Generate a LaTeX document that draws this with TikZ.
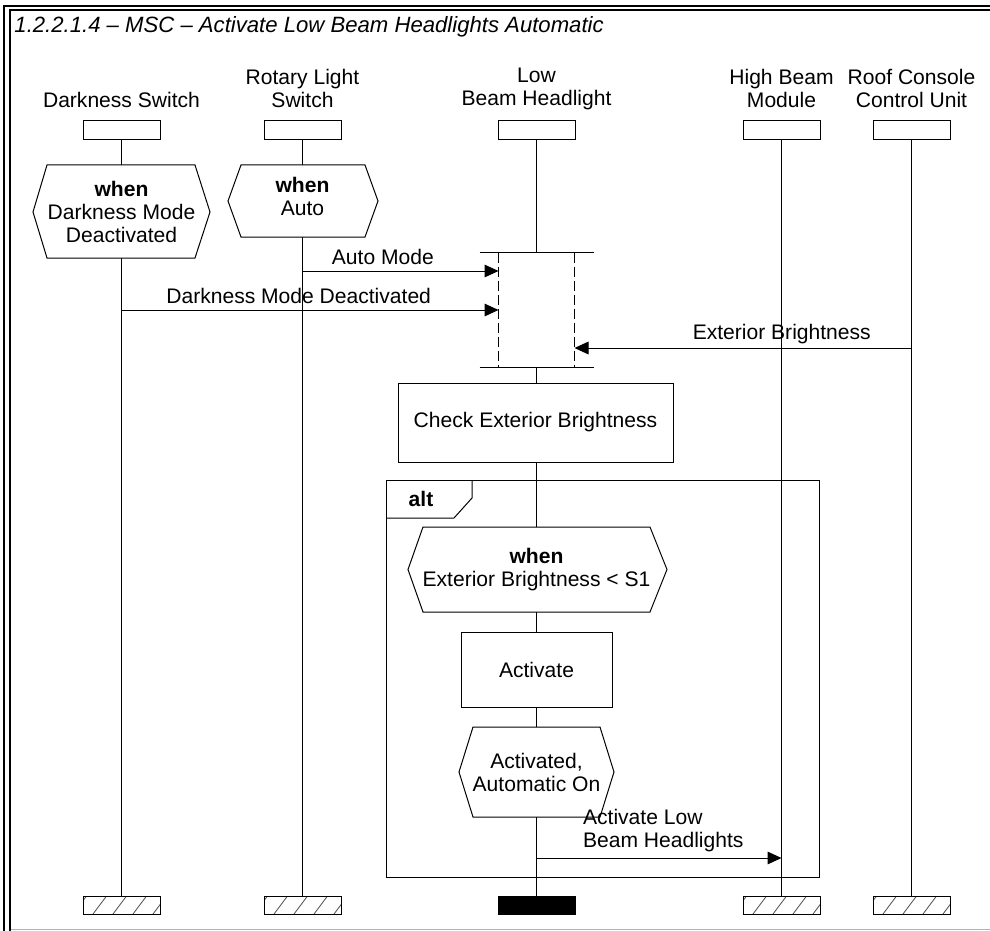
\documentclass[tikz,border=0pt]{standalone}
\usepackage{fontspec}
\setmainfont{Liberation Sans}
\usetikzlibrary{arrows.meta}

\begin{document}
\begin{tikzpicture}[x=0.75pt,y=-0.75pt,line width=0.75pt,
  font=\fontsize{15.8}{17.25}\selectfont,
  msg/.style={-{Triangle[length=10.5pt,width=9.5pt]}},
  headbox/.style={draw,fill=white,minimum width=57.75pt,minimum height=14.25pt,inner sep=0pt},
  endbox/.style={headbox,minimum height=13.5pt,path picture={
    \foreach \i in {-10,10,30,50,70}
      \draw[line width=0.6pt,black!70](path picture bounding box.south west)++(\i,0)--++(13.5,-18);}},
  cond/.style={draw,fill=white},
  lbl/.style={align=center}]
\useasboundingbox (0,0) rectangle (990,931);
\fill[white] (0,0) rectangle (990,931);
\draw[line width=1.5pt] (990,5.8)--(4.3,5.8)--(4.3,931);
\draw[line width=1.5pt] (990,10.3)--(9.8,10.3)--(9.8,931);
\draw[gray!60,line width=1.2pt] (11,929.5)--(990,929.5);
\node[anchor=west,font=\fontsize{16.6}{18}\selectfont\itshape] (title) at (9.5,27) {1.2.2.1.4 – MSC – Activate Low Beam Headlights Automatic};

\node[lbl] (dsl) at (121.5,100) {Darkness Switch};
\node[lbl] (rsl) at (302.5,88.5) {Rotary Light\\Switch};
\node[lbl] (lbl) at (536.5,88.5) {Low\\Beam Headlight};
\node[lbl] (hbl) at (781.5,88.5) {High Beam\\Module};
\node[lbl] (rcl) at (911.5,88.5) {Roof Console\\Control Unit};

\node[headbox] (ds) at (121.5,130.5) {};
\node[headbox] (rs) at (302.5,130.5) {};
\node[headbox] (lb) at (536.5,130.5) {};
\node[headbox] (hb) at (781.5,130.5) {};
\node[headbox] (rc) at (911.5,130.5) {};
\node[endbox] (dse) at (121.5,905) {};
\node[endbox] (rse) at (302.5,905) {};
\node[headbox,minimum height=13.5pt,fill=black] (lbe) at (536.5,905) {};
\node[endbox] (hbe) at (781.5,905) {};
\node[endbox] (rce) at (911.5,905) {};
\draw (ds)--(dse);
\draw (rs)--(rse);
\draw (lb)--(lbe);
\draw (hb)--(hbe);
\draw (rc)--(rce);

\draw[cond] (47,165)--(195,165)--(210,212)--(195,258)--(47,258)--(33,212)--cycle;
\node[lbl] (dsw) at (121.5,212) {\textbf{when}\\Darkness Mode\\Deactivated};
\draw[cond] (241,165)--(365,165)--(378,201)--(365,237)--(241,237)--(228,201)--cycle;
\node[lbl] (rsw) at (302.5,196) {\textbf{when}\\Auto};

\node[fill=white,minimum width=56.25pt,minimum height=85.5pt,inner sep=0pt] (coreg) at (536.5,310) {};
\draw[dash pattern=on 7.5pt off 3pt] (coreg.north west)--(coreg.south west);
\draw[dash pattern=on 7.5pt off 3pt] (coreg.north east)--(coreg.south east);
\draw[line width=1pt] ([xshift=-14.25pt]coreg.north west)--([xshift=14.25pt]coreg.north east);
\draw[line width=1pt] ([xshift=-14.25pt]coreg.south west)--([xshift=14.25pt]coreg.south east);

\draw[msg] (rs|-0,271)--(coreg.west|-0,271) node[pos=0.41,yshift=10.5pt]{Auto Mode};
\draw[msg] (ds|-0,310)--(coreg.west|-0,310) node[pos=0.47,yshift=10.5pt]{Darkness Mode Deactivated};
\draw[msg] (rc|-0,348)--(coreg.east|-0,348) node[pos=0.385,yshift=10.5pt]{Exterior Brightness};

\node[draw,fill=white,minimum width=206.25pt,minimum height=59.25pt] (check) at (535.5,422.5) {Check Exterior Brightness};

\draw (386,480) rectangle (819,877);
\draw (386,518)--(454,518)--(472,498)--(472,480);
\node[font=\fontsize{15.8}{17.25}\selectfont\bfseries] (alt) at (421,499) {alt};

\draw[cond] (423,527)--(650,527)--(667,569.5)--(650,612)--(423,612)--(408,569.5)--cycle;
\node[lbl] (extw) at (536.5,569.5) {\textbf{when}\\Exterior Brightness < S1};
\node[draw,fill=white,minimum width=113.25pt,minimum height=56.25pt] (act) at (536.5,669.5) {Activate};
\draw[cond] (473,727)--(600,727)--(614,772)--(600,817)--(473,817)--(459,772)--cycle;
\node[lbl] (actd) at (536.5,772) {Activated,\\Automatic On};

\draw[msg] (lb|-0,858)--(hb|-0,858) node[pos=0.17,anchor=west,align=left,yshift=20.6pt]{Activate Low\\Beam Headlights};
\end{tikzpicture}
\end{document}
